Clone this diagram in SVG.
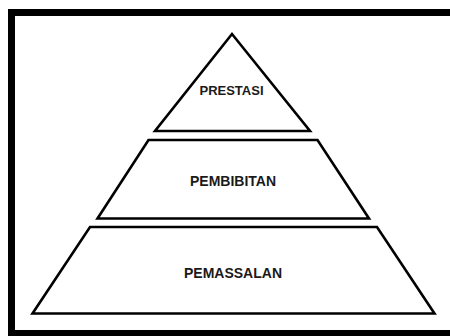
<svg xmlns="http://www.w3.org/2000/svg" width="450" height="336" viewBox="0 0 450 336">
<style>
.shape{fill:#fff;stroke:#000;stroke-width:2.6;stroke-linejoin:miter}
.lbl{font-family:"Liberation Sans",Arial,sans-serif;font-weight:bold;fill:#1a1a1a;text-anchor:middle}
</style>
<rect x="0" y="0" width="450" height="336" fill="#fff"/>
<rect id="frame" x="11.5" y="12.5" width="450" height="321" fill="#fff" stroke="#000" stroke-width="7"/>
<g id="prestasi">
<polygon class="shape" points="232,34 155,131 310,131"/>
<text class="lbl" x="231.5" y="95" font-size="13">PRESTASI</text>
</g>
<g id="pembibitan">
<polygon class="shape" points="148.5,140 317.5,140 369,218.5 97.5,218.5"/>
<text class="lbl" x="233" y="185.5" font-size="14">PEMBIBITAN</text>
</g>
<g id="pemassalan">
<polygon class="shape" points="90,227 377,227 434.5,313.5 32.5,313.5"/>
<text class="lbl" x="233" y="277.5" font-size="14">PEMASSALAN</text>
</g>
<g id="connectors"></g>
</svg>
